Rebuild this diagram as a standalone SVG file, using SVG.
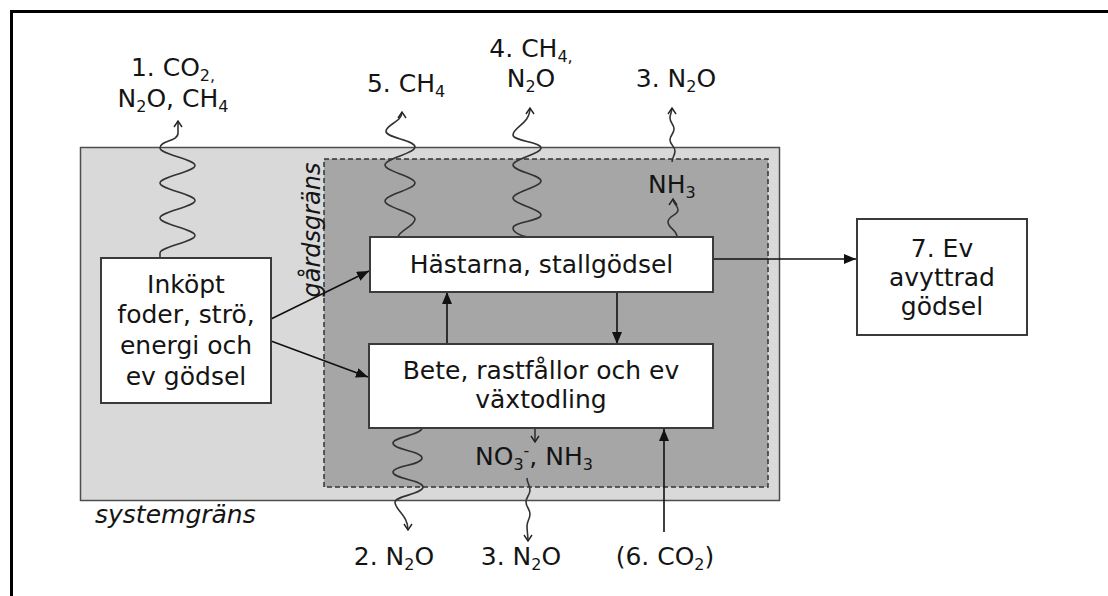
<svg xmlns="http://www.w3.org/2000/svg" width="1108" height="596" viewBox="0 0 1108 596">
<style>
text{font-family:"DejaVu Sans","Liberation Sans",sans-serif;font-size:25px;fill:#141414}
.c{text-anchor:middle}
.i{font-style:italic}
.g{font-size:24px}
.s{font-size:16px}
.box{fill:#fff;stroke:#3a3a3a;stroke-width:2}
.w{fill:none;stroke:#333;stroke-width:1.6}
.a{fill:none;stroke:#111;stroke-width:1.6}
</style>
<defs>
<marker id="tri" markerUnits="userSpaceOnUse" markerWidth="12" markerHeight="10" viewBox="0 0 12 10" refX="12" refY="5" orient="auto"><path d="M0,0 L12,5 L0,10 z" fill="#111"/></marker>
<marker id="chev" markerUnits="userSpaceOnUse" markerWidth="10" markerHeight="10" viewBox="0 0 10 10" refX="8" refY="5" orient="auto"><path d="M2,1 L8,5 L2,9" fill="none" stroke="#222" stroke-width="1.4"/></marker>
</defs>
<path d="M11.5,596 V11.5 H1108" fill="none" stroke="#000" stroke-width="3"/>
<g id="systemgrans">
<rect x="80.5" y="147.5" width="699" height="353" fill="#d9d9d9" stroke="#4d4d4d" stroke-width="1.5"/>
<text x="95" y="523" class="i">systemgräns</text>
</g>
<g id="gardsgrans">
<rect x="324" y="159" width="444" height="328" fill="#a6a6a6" stroke="#333" stroke-width="1.5" stroke-dasharray="5,3"/>
<text class="c i g" transform="translate(320,230) rotate(-90)">gårdsgräns</text>
</g>
<g id="connectors">
<path class="w" marker-end="url(#chev)" d="M160,258 L160,253 C160,246.6 195,241.9 195,235.5 C195,229.1 160,224.4 160,218 C160,211.6 195,206.9 195,200.5 C195,194.1 160,189.4 160,183 C160,176.6 195,171.9 195,165.5 C195,159.1 160,154.4 160,148 C160,140 178,142 178,133 L178,121"/>
<path class="w" marker-end="url(#chev)" d="M398,237 C400,230 415,226 415,219 C415,212.6 385,207.4 385,201 C385,194.6 415,189.4 415,183 C415,176.6 385,171.4 385,165 C385,158.6 415,153.4 415,147 C415,140 385,138 386,131 C387,124 402,122 402,112"/>
<path class="w" marker-end="url(#chev)" d="M528,237 C520,236 513,232 513,228 C513,222 541,221 541,215 C541,209 513,204 513,198 C513,192 541,187 541,181 C541,175 513,171 513,165 C513,159 541,154 541,148 C541,142 513,141 513,135 C513,127 530,124 530,108"/>
<path class="w" marker-end="url(#chev)" d="M677,237 C677,230 668,228 668,222 C668,216 678,215 678,210 C678,205 673,204 673,199"/>
<path class="w" marker-end="url(#chev)" d="M672,162 C672,157 675,156 675,151 C675,146 670,145 670,140 C670,135 674,134 674,129 C674,124 670,123 670,118 C670,114 672,112 672,108"/>
<path class="w" marker-end="url(#chev)" d="M422,428 C422,435 393,437 393,443 C393,450 422,451 422,458 C422,465 393,466 393,472 C393,479 423,480 423,487 C423,494 395,496 395,502 C395,510 408,515 408,530"/>
<path class="w" marker-end="url(#chev)" d="M535,428 L535,442"/>
<path class="w" marker-end="url(#chev)" d="M527,478 C527,483 530,485 530,490 C530,495 526,497 526,502 C526,507 530,509 530,514 C530,519 527,521 527,526 C527,532 528,535 528,541"/>
<path class="a" marker-end="url(#tri)" d="M271,319 L369,271"/>
<path class="a" marker-end="url(#tri)" d="M271,341 L368,377"/>
<path class="a" marker-end="url(#tri)" d="M447,344 V292"/>
<path class="a" marker-end="url(#tri)" d="M617,292 V344"/>
<path class="a" marker-end="url(#tri)" d="M713,259 H856"/>
<path class="a" marker-end="url(#tri)" d="M664,532 V429"/>
</g>
<g id="inkopt">
<rect class="box" x="101" y="258" width="170" height="145"/>
<text class="c" x="186" y="293">Inköpt</text>
<text class="c" x="186" y="323">foder, strö,</text>
<text class="c" x="186" y="354">energi och</text>
<text class="c" x="186" y="385">ev gödsel</text>
</g>
<g id="hastarna">
<rect class="box" x="370" y="237" width="343" height="55"/>
<text class="c" x="541.5" y="273">Hästarna, stallgödsel</text>
</g>
<g id="bete">
<rect class="box" x="369" y="344" width="344" height="84"/>
<text class="c" x="541" y="379">Bete, rastfållor och ev</text>
<text class="c" x="541" y="408">växtodling</text>
</g>
<g id="avyttrad">
<rect class="box" x="857" y="219" width="170" height="116"/>
<text class="c" x="942" y="257">7. Ev</text>
<text class="c" x="942" y="286">avyttrad</text>
<text class="c" x="942" y="315">gödsel</text>
</g>
<g id="labels">
<text class="c" x="173" y="76">1. CO<tspan class="s" dy="5">2,</tspan></text>
<text class="c" x="173" y="107">N<tspan class="s" dy="5">2</tspan><tspan dy="-5">O, CH</tspan><tspan class="s" dy="5">4</tspan></text>
<text class="c" x="406" y="92">5. CH<tspan class="s" dy="5">4</tspan></text>
<text class="c" x="531" y="57">4. CH<tspan class="s" dy="5">4,</tspan></text>
<text class="c" x="531" y="87">N<tspan class="s" dy="5">2</tspan><tspan dy="-5">O</tspan></text>
<text class="c" x="676" y="87">3. N<tspan class="s" dy="5">2</tspan><tspan dy="-5">O</tspan></text>
<text x="648" y="193">NH<tspan class="s" dy="5">3</tspan></text>
<text x="475" y="465">NO<tspan class="s" dy="5">3</tspan><tspan class="s" dy="-14">-</tspan><tspan dy="9">, NH</tspan><tspan class="s" dy="5">3</tspan></text>
<text class="c" x="394" y="565">2. N<tspan class="s" dy="5">2</tspan><tspan dy="-5">O</tspan></text>
<text class="c" x="521" y="565">3. N<tspan class="s" dy="5">2</tspan><tspan dy="-5">O</tspan></text>
<text class="c" x="665" y="565">(6. CO<tspan class="s" dy="5">2</tspan><tspan dy="-5">)</tspan></text>
</g>
</svg>
